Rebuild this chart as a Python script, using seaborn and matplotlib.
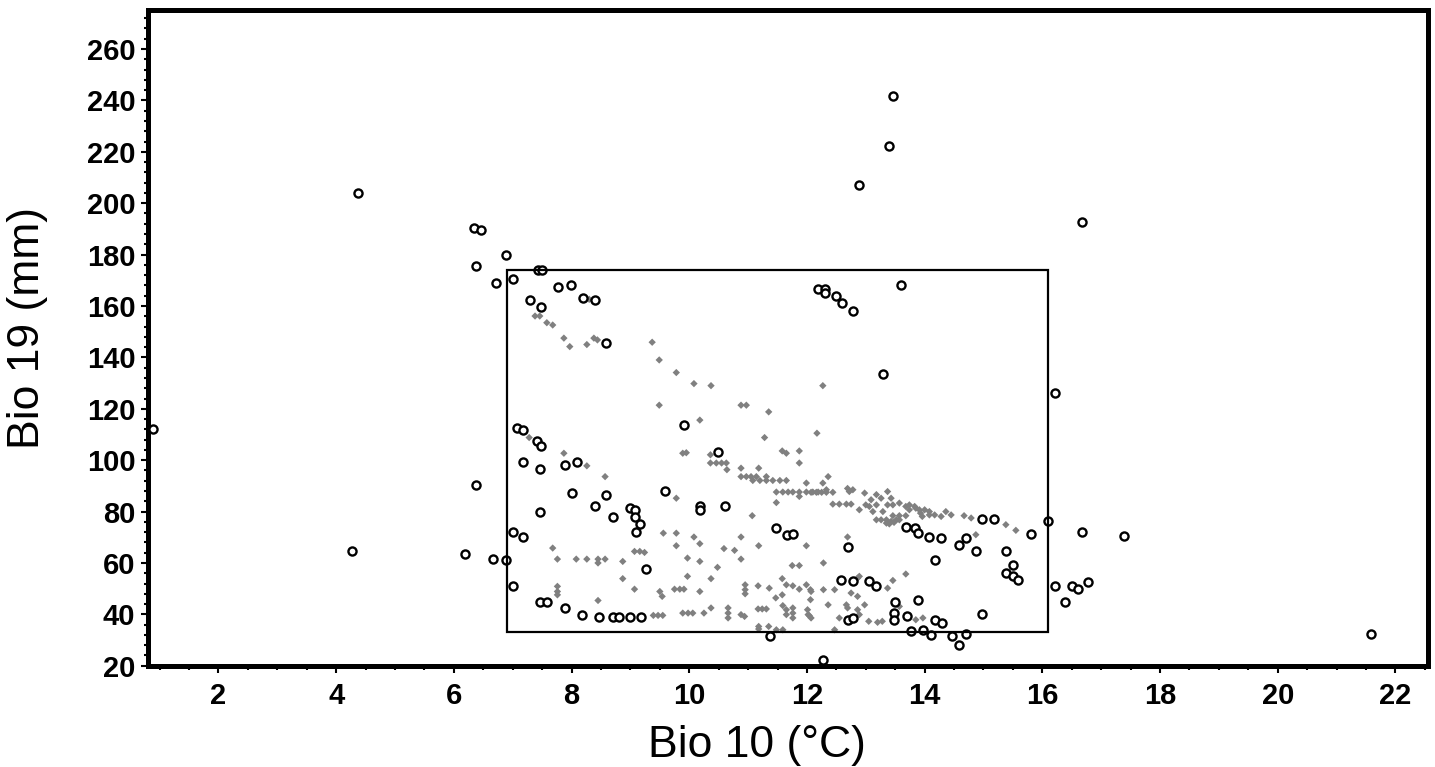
import matplotlib
matplotlib.use("Agg")
import matplotlib.pyplot as plt
from matplotlib.patches import Rectangle
from matplotlib.ticker import MultipleLocator
import pandas as pd
import seaborn as sns

# occurrence points (open circles)
occ_x = [0.88, 4.38, 4.27, 6.35, 6.47, 6.38, 6.71, 6.38, 6.19, 6.67, 6.88, 6.89, 7.0, 7.43, 7.50,
         7.77, 7.99, 7.29, 7.48, 8.19, 8.40, 8.58, 9.91, 7.07, 7.18, 7.41, 7.48, 7.18, 7.47, 7.89,
         8.10, 8.00, 8.58, 8.40, 8.70, 8.99, 9.07, 9.08, 9.16, 9.09, 7.47, 7.00, 7.18, 9.27, 7.00,
         7.47, 7.59, 7.89, 8.18, 8.47, 8.70, 8.81, 8.99, 9.18, 9.58, 10.19, 10.19, 10.60, 10.49,
         11.48, 11.66, 11.76, 12.69, 12.58, 12.78, 13.06, 13.18, 12.69, 12.78, 13.49, 13.48, 13.48,
         13.70, 13.88, 13.77, 13.98, 14.10, 14.17, 14.30, 14.18, 14.47, 14.58, 14.70, 11.38, 14.98,
         14.98, 15.17, 15.80, 16.09, 16.21, 13.68, 13.83, 13.88, 14.08, 14.28, 14.59, 14.71, 14.87,
         15.38, 15.50, 15.38, 15.50, 15.58, 16.68, 16.21, 16.68, 17.38, 16.39, 16.50, 16.61, 16.78,
         21.58, 13.47, 13.40, 12.89, 12.19, 12.30, 12.30, 12.49, 12.60, 12.78, 13.59, 13.30, 12.28]
occ_y = [112, 204, 64.5, 190.5, 189.5, 175.7, 169.1, 90.4, 63.5, 61.5, 61.1, 180, 170.7, 174, 174,
         167.3, 168.3, 162.4, 159.8, 163.3, 162.4, 145.5, 113.5, 112.7, 111.8, 107.3, 105.4, 99.1, 96.5, 98.2,
         99.2, 87.2, 86.5, 82.2, 77.9, 81.5, 80.5, 77.9, 75.2, 72.0, 79.7, 72.0, 70.3, 57.6, 51.1,
         44.9, 44.9, 42.3, 39.9, 39.0, 39.0, 39.0, 39.0, 39.0, 88.1, 82.0, 80.5, 82.0, 103.3,
         73.8, 71.0, 71.4, 66.2, 53.5, 52.8, 52.8, 50.9, 37.9, 38.6, 45.0, 40.5, 37.9,
         39.2, 45.7, 33.6, 34.0, 32.1, 37.9, 36.6, 61.2, 31.4, 28.2, 32.4, 31.4, 40.1,
         77.1, 77.1, 71.1, 76.2, 51.0, 74.0, 73.6, 71.6, 70.3, 69.7, 66.8, 69.6, 64.5,
         64.5, 59.3, 56.1, 54.8, 53.4, 192.7, 126.1, 72.1, 70.4, 44.9, 51.0, 49.9, 52.7,
         32.4, 241.6, 222.3, 207.0, 166.6, 166.8, 165.2, 163.9, 161.3, 158.1, 168.2, 133.6, 22.4]

# background points (grey)
bg_x = [7.38, 7.46, 7.58, 7.68, 7.87, 7.97, 8.26, 8.38, 8.44, 8.30,
        9.37, 9.49, 9.78, 10.08, 10.37, 9.49, 10.18, 10.88, 10.97, 11.35, 11.28, 7.28, 12.17, 12.27,
        9.89, 9.95, 10.36, 10.36, 10.46, 10.55, 10.63, 10.64, 10.88, 11.18, 10.88, 10.97, 11.05, 11.14,
        11.31, 11.08, 11.20, 11.31, 11.42, 11.54, 11.65, 11.58, 11.65, 11.87, 11.87, 11.99, 11.48, 11.59,
        11.68, 11.76, 11.87, 11.99, 12.10, 12.19, 11.87, 9.78, 11.48,
        12.36, 12.27, 12.33, 12.07, 12.16, 12.25, 12.33, 12.44, 12.44, 12.55, 12.67, 12.75, 12.69, 12.72,
        12.78, 12.98, 13.09, 13.18, 13.26, 13.37, 12.89, 13.00, 13.06, 13.18, 13.12, 13.29, 13.37, 13.43,
        13.46, 13.57, 13.68, 13.74, 13.83, 13.91, 14.00, 14.08, 14.17, 13.18, 13.26, 13.35, 13.43, 13.52,
        13.57, 13.46, 13.57, 13.68, 13.35, 13.40, 13.48, 13.74, 13.85, 13.93, 13.96, 14.08, 14.28, 14.36,
        14.45, 14.67, 14.79, 15.38, 15.55, 14.87, 12.69,
        11.07, 9.56, 9.78, 9.78, 10.08, 10.18, 10.88, 10.59, 10.77, 11.18, 10.88, 11.99, 9.07, 9.16, 9.24,
        8.87, 9.97, 10.18, 10.48, 11.75, 11.87, 8.87, 9.97, 10.37, 11.58, 9.07, 9.50, 9.54, 9.75, 9.84,
        9.91, 10.18, 10.95, 10.95, 10.95, 11.17, 11.36, 11.47, 11.58, 11.65, 11.76, 11.87, 11.99, 12.06,
        12.06, 9.39, 9.47, 9.55, 9.89, 9.98, 10.06, 10.25, 10.37, 10.66, 10.66, 10.66, 10.88, 10.94,
        11.17, 11.24, 11.31, 11.59, 11.65, 11.65, 11.76, 11.76, 11.76, 12.01, 12.04, 11.18, 11.35, 11.48,
        11.59, 7.87, 8.26, 8.57, 7.68, 7.76, 8.08, 8.26, 8.45, 8.57, 8.45, 7.76, 7.76, 7.76, 8.45,
        12.28, 12.07, 12.28, 12.47, 12.75, 12.86, 13.37, 13.46, 13.68, 13.57, 12.36, 12.67, 12.69, 12.86,
        12.89, 12.98, 12.02, 12.07, 12.55, 13.05, 13.28, 13.85, 13.97, 12.47, 12.89, 12.86, 13.20, 11.18]
bg_y = [156.1, 156.1, 153.5, 152.6, 147.5, 144.2, 145.0, 147.5, 146.8, 162.6,
        145.9, 139.0, 134.1, 129.8, 129.0, 121.4, 115.6, 121.4, 121.4, 118.8, 108.8, 108.8, 110.5, 129.0,
        102.7, 102.9, 102.1, 98.9, 98.9, 98.9, 98.9, 96.3, 96.9, 96.9, 93.6, 93.6, 93.6, 93.6,
        93.6, 92.1, 92.1, 92.1, 92.1, 92.1, 92.1, 103.6, 102.7, 103.6, 98.9, 91.1, 87.6, 87.6,
        87.6, 87.6, 87.6, 87.6, 87.6, 87.6, 85.9, 85.2, 83.5,
        93.6, 91.1, 88.5, 87.5, 87.5, 87.5, 87.5, 87.5, 82.9, 82.9, 82.9, 82.9, 89.0, 87.8,
        88.5, 87.2, 84.6, 86.6, 85.2, 87.8, 80.7, 82.6, 82.0, 82.6, 80.0, 80.0, 82.6, 85.2,
        82.6, 83.3, 82.0, 82.6, 82.0, 80.7, 80.7, 80.0, 78.7, 76.8, 76.8, 76.8, 76.2, 76.8,
        76.8, 78.4, 78.4, 78.4, 75.5, 75.2, 75.8, 80.7, 81.3, 79.4, 78.1, 78.7, 78.1, 80.0,
        78.7, 78.4, 77.5, 74.9, 72.7, 71.0, 70.1,
        78.4, 71.6, 71.6, 66.7, 70.1, 67.5, 70.1, 65.6, 64.9, 66.7, 61.5, 66.7, 64.5, 64.5, 64.1,
        60.6, 61.9, 60.6, 58.3, 59.0, 59.0, 53.9, 54.8, 53.9, 53.9, 49.8, 48.9, 47.0, 49.8, 49.8,
        49.8, 48.9, 51.5, 49.6, 48.0, 51.1, 50.2, 46.4, 47.6, 51.5, 51.1, 49.8, 51.5, 49.6,
        45.7, 39.6, 39.6, 39.6, 40.5, 40.5, 40.5, 40.5, 42.5, 42.5, 40.5, 38.6, 39.9, 39.2,
        42.1, 42.1, 42.1, 43.4, 41.8, 39.9, 42.5, 40.5, 38.6, 41.8, 39.5, 34.3, 35.3, 34.0,
        34.0, 102.7, 97.8, 93.6, 65.8, 61.5, 61.5, 61.5, 61.5, 61.5, 60.0, 50.9, 48.9, 47.6, 45.4,
        60.0, 48.9, 49.6, 49.6, 48.3, 54.1, 50.2, 53.2, 55.7, 43.1, 43.7, 43.7, 42.5, 41.8,
        39.9, 43.7, 39.9, 38.6, 38.6, 37.3, 37.3, 37.9, 38.6, 34.0, 54.8, 47.0, 36.9, 35.3]

# climate envelope box (x range, y range)
box_x = [6.9, 16.1]
box_y = [33.1, 173.9]

occ = pd.DataFrame({"bio10": occ_x, "bio19": occ_y})
bg = pd.DataFrame({"bio10": bg_x, "bio19": bg_y})

sns.set_style("ticks")
plt.rcParams['font.family'] = ['Liberation Sans', 'DejaVu Sans']

fig = plt.figure(figsize=(14.35, 7.67), dpi=100)
ax = fig.add_axes([0.103, 0.132, 0.892, 0.855])

sns.scatterplot(data=bg, x="bio10", y="bio19", ax=ax, marker="D", s=14,
                color="#808080", edgecolor="none", linewidth=0, zorder=2)
sns.scatterplot(data=occ, x="bio10", y="bio19", ax=ax, marker="o", s=34,
                facecolor="white", edgecolor="black", linewidth=1.7, zorder=3)

ax.add_patch(Rectangle((box_x[0], box_y[0]), box_x[1] - box_x[0], box_y[1] - box_y[0],
                       fill=False, edgecolor="black", linewidth=1.6, zorder=4))

ax.set_xlim(0.8, 22.55)
ax.set_ylim(20, 275.2)
ax.xaxis.set_major_locator(MultipleLocator(2))
ax.xaxis.set_minor_locator(MultipleLocator(0.5))
ax.yaxis.set_major_locator(MultipleLocator(20))
ax.yaxis.set_minor_locator(MultipleLocator(4))
ax.set_xticks([2, 4, 6, 8, 10, 12, 14, 16, 18, 20, 22])
ax.set_yticks(list(range(20, 261, 20)))

for sp in ax.spines.values():
    sp.set_visible(True)
    sp.set_linewidth(3.6)
    sp.set_color("black")

ax.tick_params(axis="both", which="major", length=5, width=1.5, color="black",
               labelcolor="black", labelsize=21, pad=4)
ax.tick_params(axis="x", which="major", pad=7)
ax.tick_params(axis="both", which="minor", length=3, width=1.5, color="black")
for lab in ax.get_xticklabels() + ax.get_yticklabels():
    lab.set_fontweight("bold")

ax.set_xlabel("Bio 10 (°C)", fontsize=32, color="black")
ax.set_ylabel("Bio 19 (mm)", fontsize=32, color="black")
ax.xaxis.set_label_coords(0.476, -0.09)
ax.yaxis.set_label_coords(-0.078, 0.515)

fig.savefig("out.png", dpi=100)
